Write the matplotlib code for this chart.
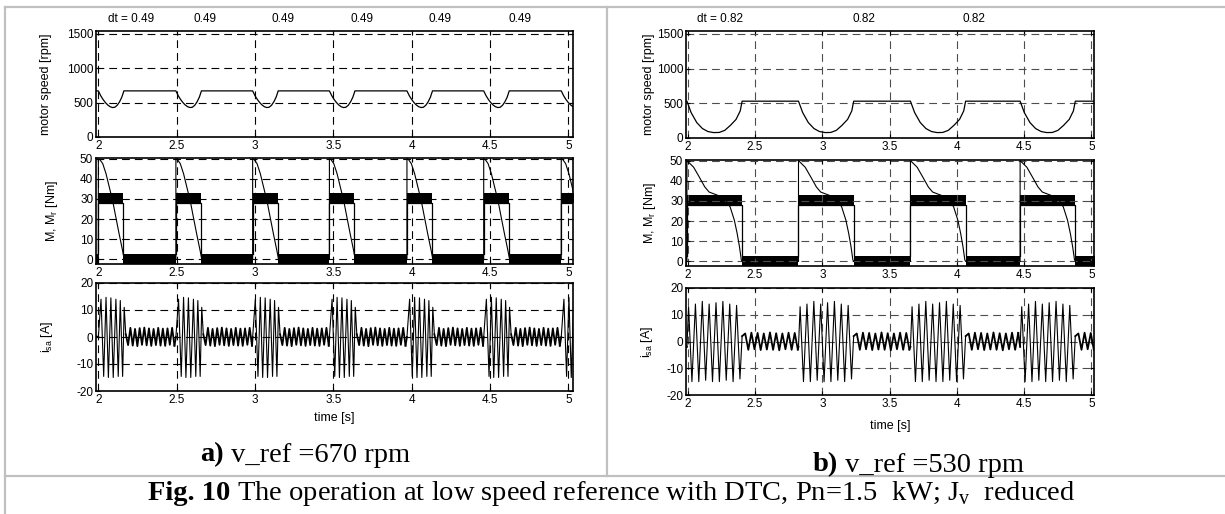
import numpy as np
import matplotlib.pyplot as plt
from matplotlib.lines import Line2D

plt.rcParams['font.family'] = ['Liberation Sans', 'DejaVu Sans']
plt.rcParams['axes.unicode_minus'] = False
plt.rcParams['mathtext.fontset'] = 'custom'
plt.rcParams['mathtext.rm'] = 'Liberation Serif'
plt.rcParams['mathtext.sf'] = 'Liberation Sans'

W, H = 1225, 514

# ---------------- data, panel a (v_ref = 670 rpm) ----------------
v_ref_a = 670
events_a = [2.000, 2.495, 2.985, 3.475, 3.970, 4.460, 4.955]
speed_rel_a = [0.000, 0.015, 0.030, 0.045, 0.060, 0.075, 0.090, 0.105, 0.120, 0.135, 0.150, 0.163]
speed_val_a = [670, 600, 545, 500, 465, 440, 428, 432, 460, 510, 580, 670]
mr_rel_a = [0.000, 0.000, 0.010, 0.028, 0.049, 0.070, 0.091, 0.112, 0.133, 0.155, 0.165]
mr_val_a = [0, 50, 49.5, 47.5, 42.5, 35.8, 29.2, 20.8, 12.5, 4.2, 0]
m_on_a = 0.160
m_high_a = (27.8, 33.0)
m_low_a = (-2.3, 2.5)
burst_rel_a = [0.000, 0.017, 0.034, 0.049, 0.064, 0.080, 0.095, 0.112, 0.127, 0.140, 0.155, 0.165, 0.175]
burst_val_a = [0, 14, -14.6, 14.7, -15, 14.5, -15, 14, -14.6, 13.5, -14.6, 11, 1]
ripple_half_a = 0.0148
ripple_a = [-3.0, 3.4, -3.2, 3.0, -3.4, 3.3, -2.9, 3.5, -3.1, 3.2, -3.3, 3.0,
            -3.0, 3.4, -3.2, 3.1, -3.3, 3.2, -2.9, 3.4, -3.2, 3.0, -3.1, 3.3]
dt_pos_a = [2.21, 2.68, 3.18, 3.68, 4.18, 4.69]
dt_txt_a = ['dt = 0.49', '0.49', '0.49', '0.49', '0.49', '0.49']

# ---------------- data, panel b (v_ref = 530 rpm) ----------------
v_ref_b = 530
events_b = [1.994, 2.823, 3.655, 4.470]
speed_rel_b = [0.000, 0.031, 0.073, 0.115, 0.156, 0.198, 0.240, 0.281, 0.323, 0.365, 0.396, 0.410]
speed_val_b = [530, 366, 222, 136, 93, 78, 80, 110, 182, 268, 390, 530]
mr_rel_b = [0.000, 0.000, 0.050, 0.092, 0.133, 0.165, 0.196, 0.240, 0.290, 0.321, 0.352, 0.373, 0.390, 0.404, 0.410]
mr_val_b = [0, 50, 46.7, 41.8, 36.9, 34.4, 33.6, 32.5, 30.3, 27, 20.5, 13.9, 7.4, 0.8, 0]
m_on_b = 0.410
m_high_b = (27.9, 33.0)
m_low_b = (-2.3, 2.6)
burst_rel_b = [0.000, 0.012, 0.037, 0.063, 0.088, 0.114, 0.139, 0.165, 0.190, 0.216,
               0.241, 0.267, 0.292, 0.318, 0.343, 0.369, 0.394, 0.410]
burst_val_b = [-2, 13, -15, 14, -15, 15, -14.5, 14, -15, 14.5, -15, 15, -14.5, 14, -15, 13.5, -14, 2]
ripple_half_b = 0.023
ripple_b = [3.0, -3.1, 3.3, -2.9, 3.2, -3.2, 3.0, -3.0, 3.4, -3.1, 3.1, -3.3,
            3.0, -2.9, 3.3, -3.1, 3.2, -3.0, 3.1, -3.2]
dt_pos_b = [2.24, 3.31, 4.13]
dt_txt_b = ['dt = 0.82', '0.82', '0.82']

fig = plt.figure(figsize=(W / 100, H / 100), dpi=100)


def px_axes(x0, y0, x1, y1):
    return fig.add_axes([x0 / W, 1 - y1 / H, (x1 - x0) / W, (y1 - y0) / H])


def style(ax, xlim, ylim, yticks, gcol):
    ax.set_xlim(*xlim)
    ax.set_ylim(*ylim)
    ax.set_xticks([2, 2.5, 3, 3.5, 4, 4.5, 5])
    ax.set_xticklabels(['2', '2.5', '3', '3.5', '4', '4.5', '5'])
    ax.set_yticks(yticks)
    ax.tick_params(direction='in', top=True, right=True, length=3, width=0.8,
                   labelsize=8.5, pad=2)
    ax.grid(True, color=gcol, linestyle=(0, (7, 4.5)), lw=0.8)
    for s in ax.spines.values():
        s.set_linewidth(1.2)


def panel(boxes, xlim, gcol, v_ref, events, s_rel, s_val, mr_rel, mr_val, m_on, m_high, m_low,
          b_rel, b_val, r_half, ripple, dt_pos, dt_txt, lab_x, tlab_y):
    ax1, ax2, ax3 = [px_axes(*b) for b in boxes]
    ends = events[1:] + [xlim[1] + 0.1]

    # speed
    t = [xlim[0] - 0.1]
    v = [v_ref]
    for ev in events:
        t += [ev + r for r in s_rel]
        v += s_val
    t.append(xlim[1] + 0.1)
    v.append(v_ref)
    ax1.plot(t, v, color='k', lw=0.9)
    style(ax1, xlim, (0, 1540), [0, 500, 1000, 1500], gcol)
    ax1.set_ylabel('motor speed [rpm]', fontsize=9)
    ax1.yaxis.set_label_coords(lab_x[0], 0.5)
    for p, s in zip(dt_pos, dt_txt):
        ax1.text(p, 1.055, s, transform=ax1.get_xaxis_transform(), ha='center', va='bottom', fontsize=8.5)

    # torque M (noisy band) and load torque M_r
    ax2.fill_between([xlim[0] - 0.1, events[0]], m_low[0], m_low[1], color='k', lw=0)
    for ev, nx in zip(events, ends):
        ax2.fill_between([ev, ev + m_on], m_high[0], m_high[1], color='k', lw=0)
        ax2.fill_between([ev + m_on, nx], m_low[0], m_low[1], color='k', lw=0)
        ax2.plot([ev, ev, ev + m_on, ev + m_on], [m_low[1], m_high[0], m_high[0], m_low[1]], color='k', lw=0.9)
        ax2.plot([ev + r for r in mr_rel], mr_val, color='k', lw=0.8)
    style(ax2, xlim, (-2.3, 50.3), [0, 10, 20, 30, 40, 50], gcol)
    ax2.set_ylabel(r'M, M$_\mathsf{r}$ [Nm]', fontsize=9)
    ax2.yaxis.set_label_coords(lab_x[1], 0.5)

    # stator current: large bursts during the speed dips, small ripple between them
    t = [xlim[0] - 0.05]
    c = [1.0]
    for ev, nx in zip(events, ends):
        bt = [ev + r for r in b_rel]
        ax3.plot([t[-1]] + bt[:1], [c[-1]] + b_val[:1], color='k', lw=1.3)
        ax3.plot(bt, b_val, color='k', lw=0.8)
        t = [bt[-1]]
        c = [b_val[-1]]
        k = 0
        while bt[-1] + r_half * (k + 1) < nx:
            t.append(bt[-1] + r_half * (k + 1))
            c.append(ripple[k % len(ripple)])
            k += 1
        ax3.plot(t, c, color='k', lw=1.3)
    style(ax3, xlim, (-20, 20), [-20, -10, 0, 10, 20], gcol)
    ax3.set_ylabel(r'i$_\mathsf{sa}$ [A]', fontsize=9)
    ax3.yaxis.set_label_coords(lab_x[2], 0.5)
    ax3.set_xlabel('time [s]', fontsize=9)
    ax3.xaxis.set_label_coords(0.5, tlab_y)


panel([(96, 31, 573, 137), (96, 158, 573, 264), (96, 283, 573, 391)], (1.985, 5.03), 'k',
      v_ref_a, events_a, speed_rel_a, speed_val_a, mr_rel_a, mr_val_a, m_on_a, m_high_a, m_low_a,
      burst_rel_a, burst_val_a, ripple_half_a, ripple_a, dt_pos_a, dt_txt_a,
      (-0.092, -0.075, -0.086), -0.194)
panel([(686, 31, 1094, 138), (686, 160, 1094, 266), (686, 288, 1094, 395)], (1.987, 5.019), '0.3',
      v_ref_b, events_b, speed_rel_b, speed_val_b, mr_rel_b, mr_val_b, m_on_b, m_high_b, m_low_b,
      burst_rel_b, burst_val_b, ripple_half_b, ripple_b, dt_pos_b, dt_txt_b,
      (-0.076, -0.069, -0.076), -0.234)

# table borders
gray = '#c0c0c0'
for (x0, y0, x1, y1) in [(5, 7, W, 7), (5, 7, 5, H), (607, 7, 607, 476), (5, 476, W, 476)]:
    fig.add_artist(Line2D([x0 / W, x1 / W], [1 - y0 / H, 1 - y1 / H], color=gray, lw=1.6,
                          transform=fig.transFigure))

# captions: bold label followed by regular text
fig.canvas.draw()
renderer = fig.canvas.get_renderer()


def caption(xc, yc, bold, rest, size):
    b = fig.text(0, 1 - yc / H, bold, family='Liberation Serif', weight='bold', fontsize=size, va='center')
    r = fig.text(0, 1 - yc / H, rest, family='Liberation Serif', fontsize=size, va='center')
    wb = b.get_window_extent(renderer).width
    wr = r.get_window_extent(renderer).width
    x0 = xc - (wb + wr) / 2
    b.set_x(x0 / W)
    r.set_x((x0 + wb) / W)


caption(305, 455, 'a)', ' v_ref =670 rpm', 20.5)
caption(918, 465, 'b)', ' v_ref =530 rpm', 20.5)
caption(612, 494, 'Fig. 10', r' The operation at low speed reference with DTC, Pn=1.5  kW; J$_\mathrm{v}$  reduced', 20.5)

fig.savefig('out.png', dpi=100)
